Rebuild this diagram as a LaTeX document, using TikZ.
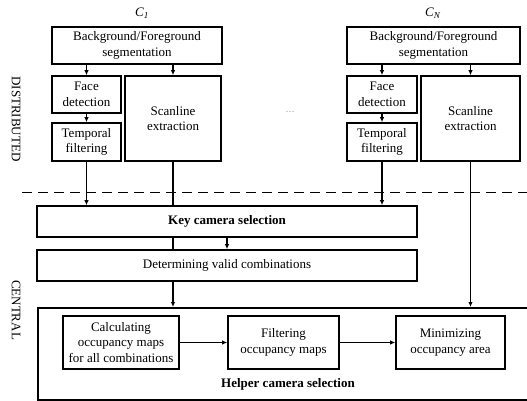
\documentclass[tikz,border=0pt]{standalone}
\usepackage{fontspec}
\setmainfont{Liberation Serif}
\usetikzlibrary{arrows.meta}

\begin{document}
\begin{tikzpicture}[x=1pt,y=-1pt,
box/.style={draw,line width=1.7pt,align=center,inner sep=0pt,font=\fontsize{13}{15.5}\selectfont},
lbl/.style={font=\fontsize{13}{15.5}\selectfont},
side/.style={rotate=-90,font=\fontsize{13}{15.5}\selectfont},
arr/.style={line width=1.4pt,-{Latex[length=5pt,width=4.5pt]}},
ln/.style={line width=1.4pt},
sep/.style={line width=1.7pt,dash pattern=on 10pt off 6pt}
]
\useasboundingbox (0,0) rectangle (527,401);
\node[lbl] (c1) at (142,13) {\textit{C}\textsubscript{\textit{1}}};
\node[lbl] (cn) at (433,13) {\textit{C}\textsubscript{\textit{N}}};
\node[box,minimum width=170pt,minimum height=37pt] (bg1) at (137,45.5) {Background/Foreground\\segmentation};
\node[box,minimum width=69pt,minimum height=37pt] (face1) at (86.5,94.5) {Face\\detection};
\node[box,minimum width=69pt,minimum height=38pt] (temp1) at (86.5,142) {Temporal\\filtering};
\node[box,minimum width=96pt,minimum height=85pt] (scan1) at (173,118.5) {Scanline\\extraction};
\node[box,minimum width=173pt,minimum height=37pt] (bg2) at (433.5,45.5) {Background/Foreground\\segmentation};
\node[box,minimum width=70pt,minimum height=37pt] (face2) at (382,94.5) {Face\\detection};
\node[box,minimum width=70pt,minimum height=38pt] (temp2) at (382,142) {Temporal\\filtering};
\node[box,minimum width=99pt,minimum height=85pt] (scan2) at (470.5,118.5) {Scanline\\extraction};
\node[font=\fontsize{9}{10}\selectfont,text=gray] (dots) at (290,112) {\dots};
\node[side] (dist) at (16,119) {DISTRIBUTED};
\node[side] (cent) at (16,310) {CENTRAL};
\draw[sep] (22,192.5) -- (527,192.5);
\node[box,minimum width=380pt,minimum height=31pt] (key) at (227,221.5) {\textbf{Key camera selection}};
\node[box,minimum width=380pt,minimum height=31pt] (det) at (227,265.5) {Determining valid combinations};
\node[box,minimum width=530pt,minimum height=92pt,anchor=north west] (helper) at (37,307) {};
\node[lbl] (helperlbl) at (288,384) {\textbf{Helper camera selection}};
\node[box,minimum width=116pt,minimum height=53pt] (calc) at (121,342.5) {Calculating\\occupancy maps\\for all combinations};
\node[box,minimum width=111pt,minimum height=53pt] (filt) at (283.5,342.5) {Filtering\\occupancy maps};
\node[box,minimum width=109pt,minimum height=53pt] (mini) at (450.5,342.5) {Minimizing\\occupancy area};
\draw[arr] (face1.north |- bg1.south) -- (face1.north);
\draw[arr] (scan1.north |- bg1.south) -- (scan1.north);
\draw[arr] (face1) -- (temp1);
\draw[arr] (face2.north |- bg2.south) -- (face2.north);
\draw[arr] (scan2.north |- bg2.south) -- (scan2.north);
\draw[arr] (face2) -- (temp2);
\draw[arr] (temp1.south) -- (temp1.south |- key.north);
\draw[ln] (scan1.south) -- (scan1.south |- key.north);
\draw[arr] (temp2.south) -- (temp2.south |- key.north);
\draw[arr] (scan2.south) -- (scan2.south |- helper.north);
\draw[ln] (scan1.south |- key.south) -- (scan1.south |- det.north);
\draw[arr] (key) -- (det);
\draw[arr] (scan1.south |- det.south) -- (scan1.south |- helper.north);
\draw[arr] (calc) -- (filt);
\draw[arr] (filt) -- (mini);
\end{tikzpicture}
\end{document}
